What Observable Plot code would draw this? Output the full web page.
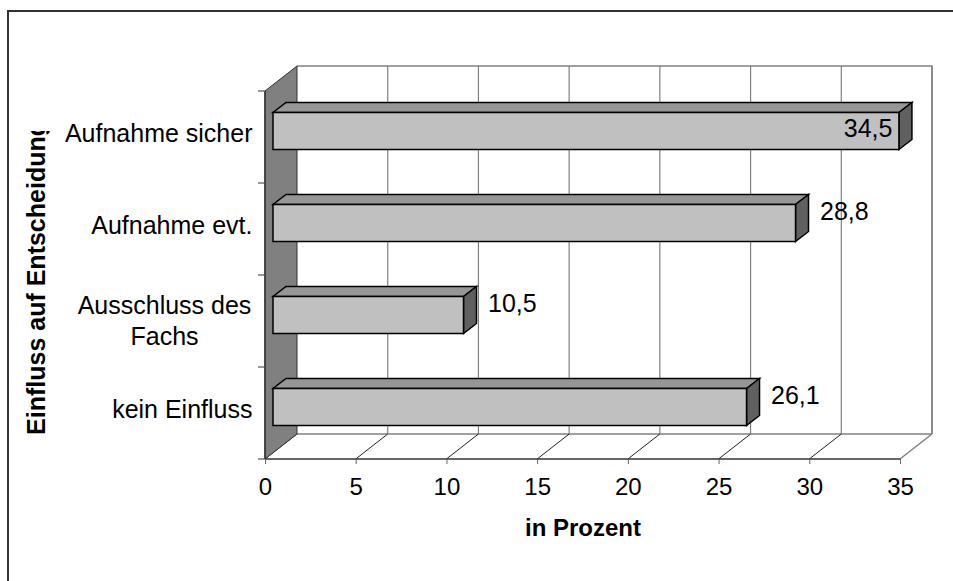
<!DOCTYPE html>
<html><head><meta charset="utf-8">
<script src="https://cdn.jsdelivr.net/npm/d3@7"></script>
<script src="https://cdn.jsdelivr.net/npm/@observablehq/plot@0.6"></script>
<style>body{margin:0;background:#fff;}</style>
</head><body><div id="chart"></div>
<script>
// ---- data ----
const categories = ["Aufnahme sicher", "Aufnahme evt.", "Ausschluss des Fachs", "kein Einfluss"];
const categoryLabels = ["Aufnahme sicher", "Aufnahme evt.", "Ausschluss des\nFachs", "kein Einfluss"];
const values = [34.5, 28.8, 10.5, 26.1];
const xTicks = [0, 5, 10, 15, 20, 25, 30, 35];
const xTitle = "in Prozent";
const yTitle = "Einfluss auf Entscheidung";

const data = categories.map((c, i) => ({cat: c, label: categoryLabels[i], value: values[i]}));
const fmt = v => d3.format(".1f")(v).replace(".", ",");
const xMax = xTicks[xTicks.length - 1];
const insideLabel = d => d.value > xMax - 3;

// ---- 3D look ----
const W = 953, H = 581;
const depth = {dx: 32, dy: -25};
const barFront = {dx: 8, dy: -6};
const barBack = {dx: 21, dy: -16};
const inset = 27.5;
const FONT = "'Liberation Sans', Arial, sans-serif";

function poly(g, pts, attrs) {
  const p = g.append("polygon").attr("points", pts.map(p => p.join(",")).join(" "));
  for (const k in attrs) p.attr(k, attrs[k]);
  return p;
}
function line(g, a, b, stroke, w) {
  g.append("line").attr("x1", a[0]).attr("y1", a[1]).attr("x2", b[0]).attr("y2", b[1])
    .attr("stroke", stroke).attr("stroke-width", w);
}

function outerFrame(index, scales, values, dims) {
  const g = d3.create("svg:g");
  line(g, [7, 11], [dims.width, 11], "#333", 2);
  line(g, [8, 10], [8, dims.height], "#333", 2);
  return g.node();
}

function walls(index, {x, y}, values, dims) {
  const g = d3.create("svg:g");
  const yT = dims.marginTop, yB = dims.height - dims.marginBottom;
  const xL = x(xTicks[0]), xR = x(xMax);
  const D = depth;
  // back wall gridlines
  for (const t of xTicks) {
    if (t === xTicks[0]) continue;
    line(g, [x(t) + D.dx, yT + D.dy], [x(t) + D.dx, yB + D.dy], "#808080", 1.2);
  }
  // back wall top & right edge
  g.append("polyline")
    .attr("points", [[xL + D.dx, yT + D.dy], [xR + D.dx, yT + D.dy], [xR + D.dx, yB + D.dy]].map(p => p.join(",")).join(" "))
    .attr("fill", "none").attr("stroke", "#808080").attr("stroke-width", 1.5);
  // floor back line
  line(g, [xL + D.dx, yB + D.dy], [xR + D.dx, yB + D.dy], "#808080", 1.5);
  // floor diagonals
  for (const t of xTicks) {
    const last = t === xMax;
    line(g, [x(t), yB], [x(t) + D.dx, yB + D.dy], last ? "#808080" : "#222", last ? 1.5 : 1);
  }
  // left wall
  poly(g, [[xL, yT], [xL + D.dx, yT + D.dy], [xL + D.dx, yB + D.dy], [xL, yB]],
    {fill: "#808080", stroke: "#333", "stroke-width": 1});
  // front floor line
  line(g, [xL, yB], [xR, yB], "#333", 1.5);
  // y axis line and ticks
  line(g, [xL, yT], [xL, yB], "#333", 1.5);
  const bw = y(categories[1]) - y(categories[0]);
  const bounds = categories.map(c => y(c)).concat([y(categories[categories.length - 1]) + bw]);
  for (const b of bounds) line(g, [xL - 7, b], [xL, b], "#555", 1.2);
  return g.node();
}

function barFaces(index, {x, y}, values, dims) {
  const g = d3.create("svg:g");
  const bw = y(categories[1]) - y(categories[0]);
  const ddx = barBack.dx - barFront.dx, ddy = barBack.dy - barFront.dy;
  const st = {stroke: "#000", "stroke-width": 1.5, "stroke-linejoin": "miter"};
  for (const d of data) {
    const yf0 = y(d.cat) + inset + barFront.dy, yf1 = y(d.cat) + bw - inset + barFront.dy;
    const xf0 = x(0) + barFront.dx, xf1 = x(d.value) + barFront.dx;
    poly(g, [[xf0, yf0], [xf1, yf0], [xf1 + ddx, yf0 + ddy], [xf0 + ddx, yf0 + ddy]], {fill: "#969696", ...st});
    poly(g, [[xf1, yf0], [xf1 + ddx, yf0 + ddy], [xf1 + ddx, yf1 + ddy], [xf1, yf1]], {fill: "#606060", ...st});
  }
  return g.node();
}

function yTitleMark(index, scales, values, dims) {
  const g = d3.create("svg:g");
  const clipTop = 131;
  g.append("clipPath").attr("id", "ytclip").append("rect")
    .attr("x", 0).attr("y", clipTop).attr("width", 120).attr("height", dims.height - clipTop);
  const cy = (dims.marginTop + dims.height - dims.marginBottom) / 2 + 3;
  g.append("g").attr("clip-path", "url(#ytclip)")
    .append("text")
    .attr("transform", `translate(45,${cy}) rotate(-90)`)
    .attr("text-anchor", "middle")
    .attr("font-family", FONT).attr("font-size", 25).attr("font-weight", "bold").attr("fill", "#000")
    .text(yTitle);
  return g.node();
}

const chart = Plot.plot({
  width: W, height: H,
  marginLeft: 265, marginRight: 53, marginTop: 91, marginBottom: 122,
  style: {fontFamily: FONT, background: "#fff", color: "#000", overflow: "visible"},
  x: {domain: [0, xMax], axis: null},
  y: {domain: categories, padding: 0, axis: null},
  marks: [
    outerFrame,
    walls,
    barFaces,
    Plot.barX(data, {x: "value", y: "cat", dx: barFront.dx, dy: barFront.dy, insetTop: inset, insetBottom: inset,
      fill: "#c0c0c0", stroke: "#000", strokeWidth: 1.5}),
    Plot.axisX({ticks: xTicks, tickSize: 5, tickPadding: 13, fontSize: 24, stroke: "#666", fill: "#000", label: null, tickFormat: d => String(d)}),
    Plot.text([xTitle], {frameAnchor: "bottom", dy: 76, fontWeight: "bold", fontSize: 24, fill: "#000"}),
    Plot.text(data.filter(d => !d.label.includes("\n")), {frameAnchor: "left", y: "cat", text: "label", textAnchor: "end", dx: -13, dy: -3.5, fontSize: 25, fill: "#000"}),
    Plot.text(data.filter(d => d.label.includes("\n")), {frameAnchor: "left", y: "cat", text: "label", textAnchor: "middle", dx: -101, dy: -1.5, lineHeight: 1.24, fontSize: 25, fill: "#000"}),
    Plot.text(data.filter(d => !insideLabel(d)), {x: "value", y: "cat", text: d => fmt(d.value), textAnchor: "start", dx: 32, dy: -18, fontSize: 25, fill: "#000"}),
    Plot.text(data.filter(insideLabel), {x: "value", y: "cat", text: d => fmt(d.value), textAnchor: "end", dx: 1, dy: -9, fontSize: 25, fill: "#000"}),
    yTitleMark
  ]
});
document.getElementById("chart").appendChild(chart);
</script>
</body></html>
